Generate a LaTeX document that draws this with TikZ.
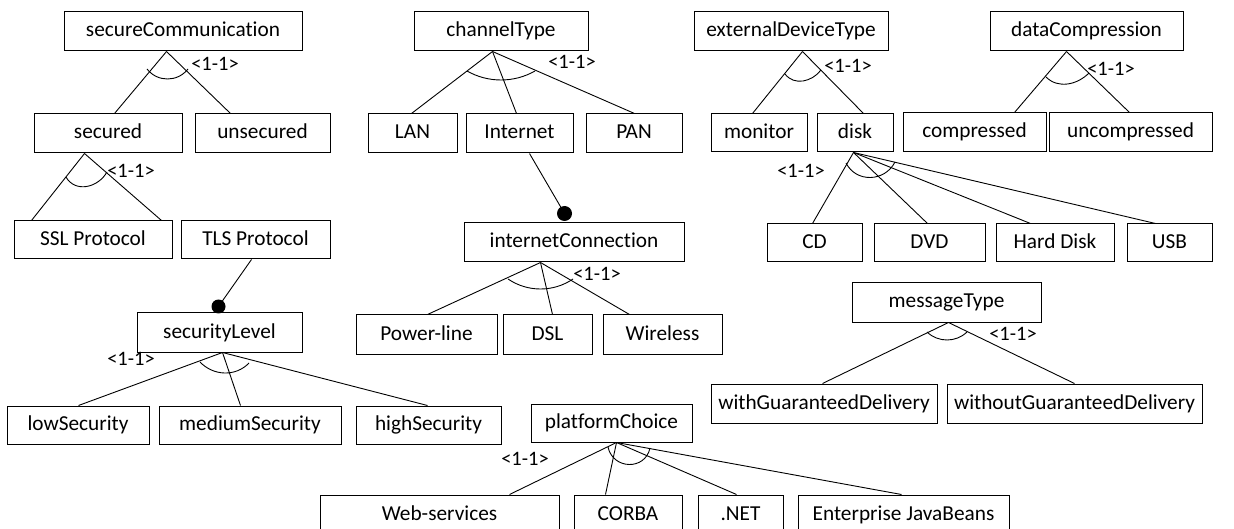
\documentclass[tikz,border=0pt]{standalone}
\usepackage{fontspec}
\setmainfont{Carlito}[Ligatures=NoCommon]
\usetikzlibrary{calc}
\tikzset{
  box/.style={draw, line width=1pt, inner sep=0pt, text height=15.5pt, text depth=4.5pt, font=\fontsize{21.3}{25}\selectfont},
  conn/.style={line width=0.9pt},
  card/.style={inner sep=0pt, text height=14pt, text depth=3pt, font=\fontsize{20.5}{24}\selectfont},
  featarc/.style={line width=0.9pt}
}
\newcommand\bx[6]{\node[box,minimum width={#4-#2},minimum height={#5-#3}] (#1) at ({(#2+#4)/2},{(#3+#5)/2}) {#6};}
\newcommand\farc[5]{%
 \pgfmathsetmacro\FAc{sqrt((#3-#1)^2+(#4-#2)^2)}%
 \pgfmathsetmacro\FAphi{2*atan(2*#5/\FAc)}%
 \pgfmathsetmacro\FAk{4/3*tan(\FAphi/2)*\FAc/(2*sin(\FAphi))}%
 \pgfmathsetmacro\FAh{\FAk*cos(\FAphi)}%
 \pgfmathsetmacro\FAv{\FAk*sin(\FAphi)}%
 \draw[featarc] (#1,#2) .. controls +(\FAh,\FAv) and +(-\FAh,\FAv) .. (#3,#4);}
\begin{document}
\begin{tikzpicture}[x=1pt,y=-1pt]
\useasboundingbox (0,0) rectangle (1234,529);
\fill[white] (0,0) rectangle (1234,529);
% boxes
\bx{sc}{64}{12}{302}{51}{secureCommunication}
\bx{sec}{34}{114}{182}{153}{secured}
\bx{unsec}{195}{114}{330}{153}{unsecured}
\bx{ssl}{14}{221}{172}{259}{SSL Protocol}
\bx{tls}{181}{221}{330}{259}{TLS Protocol}
\bx{sl}{137}{313}{302}{352}{securityLevel}
\bx{low}{7}{406}{149}{444}{lowSecurity}
\bx{med}{159}{406}{341}{444}{mediumSecurity}
\bx{high}{356}{406}{501}{444}{highSecurity}
\bx{ct}{414}{12}{588}{51}{channelType}
\bx{lan}{368}{114}{457}{153}{LAN}
\bx{inet}{466}{114}{573}{153}{Internet}
\bx{pan}{586}{114}{682}{153}{PAN}
\bx{ic}{464}{223}{684}{262}{internetConnection}
\bx{pl}{356}{315}{497}{354}{Power-line}
\bx{dsl}{503}{315}{592}{354}{DSL}
\bx{wl}{603}{315}{722}{354}{Wireless}
\bx{edt}{694}{12}{888}{51}{externalDeviceType}
\bx{mon}{711}{114}{807}{152}{monitor}
\bx{disk}{817}{114}{893}{152}{disk}
\bx{cd}{767}{224}{862}{262}{CD}
\bx{dvd}{874}{224}{985}{262}{DVD}
\bx{hd}{996}{224}{1114}{262}{Hard Disk}
\bx{usb}{1127}{224}{1212}{262}{USB}
\bx{dc}{990}{12}{1183}{51}{dataCompression}
\bx{comp}{903}{113}{1046}{152}{compressed}
\bx{uncomp}{1049}{113}{1212}{152}{uncompressed}
\bx{mt}{852}{283}{1041}{322}{messageType}
\bx{wg}{711}{384}{937}{423}{withGuaranteedDelivery}
\bx{wog}{947}{384}{1202}{423}{withoutGuaranteedDelivery}
\bx{pc}{531}{404}{692}{442}{platformChoice}
\bx{ws}{320}{495}{559}{534}{Web-services}
\bx{corba}{574}{495}{682}{534}{CORBA}
\bx{net}{698}{495}{783}{534}{.NET}
\bx{ejb}{798}{495}{1009}{534}{Enterprise JavaBeans}
% connectors
\draw[conn] ([xshift=103pt]sc.south west) -- ([xshift=81pt]sec.north west);
\draw[conn] ([xshift=103pt]sc.south west) -- ([xshift=36pt]unsec.north west);
\draw[conn] ([xshift=51pt]sec.south west) -- ([xshift=18pt]ssl.north west);
\draw[conn] ([xshift=51pt]sec.south west) -- ([xshift=148pt]ssl.north west);
\coordinate (d1) at ([xshift=82pt,yshift=6pt]sl.north west);
\draw[conn] ([xshift=71pt]tls.south west) -- (d1);
\fill (d1) circle (7);
\draw[conn] ([xshift=86pt]sl.south west) -- ([xshift=72pt]low.north west);
\draw[conn] ([xshift=86pt]sl.south west) -- ([xshift=82pt]med.north west);
\draw[conn] ([xshift=86pt]sl.south west) -- ([xshift=72pt]high.north west);
\draw[conn] ([xshift=79pt]ct.south west) -- ([xshift=44pt]lan.north west);
\draw[conn] ([xshift=79pt]ct.south west) -- ([xshift=51pt]inet.north west);
\draw[conn] ([xshift=79pt]ct.south west) -- ([xshift=49pt]pan.north west);
\coordinate (d2) at ([xshift=101pt,yshift=9pt]ic.north west);
\draw[conn] ([xshift=64pt]inet.south west) -- (d2);
\fill (d2) circle (7.5);
\draw[conn] ([xshift=77pt]ic.south west) -- ([xshift=72pt]pl.north west);
\draw[conn] ([xshift=77pt]ic.south west) -- ([xshift=50pt]dsl.north west);
\draw[conn] ([xshift=77pt]ic.south west) -- ([xshift=27pt]wl.north west);
\draw[conn] ([xshift=109pt]edt.south west) -- ([xshift=42pt]mon.north west);
\draw[conn] ([xshift=109pt]edt.south west) -- ([xshift=47pt]disk.north west);
\draw[conn] ([xshift=37pt]disk.south west) -- ([xshift=46pt]cd.north west);
\draw[conn] ([xshift=37pt]disk.south west) -- ([xshift=54pt]dvd.north west);
\draw[conn] ([xshift=37pt]disk.south west) -- ([xshift=35pt]hd.north west);
\draw[conn] ([xshift=37pt]disk.south west) -- ([xshift=29pt]usb.north west);
\draw[conn] ([xshift=77pt]dc.south west) -- ([xshift=112pt]comp.north west);
\draw[conn] ([xshift=77pt]dc.south west) -- ([xshift=81pt]uncomp.north west);
\draw[conn] ([xshift=97pt]mt.south west) -- ([xshift=112pt]wg.north west);
\draw[conn] ([xshift=97pt]mt.south west) -- ([xshift=128pt]wog.north west);
\draw[conn] ([xshift=86pt]pc.south west) -- ([xshift=190pt]ws.north west);
\draw[conn] ([xshift=86pt]pc.south west) -- ([xshift=32pt]corba.north west);
\draw[conn] ([xshift=86pt]pc.south west) -- ([xshift=39pt]net.north west);
\draw[conn] ([xshift=86pt]pc.south west) -- ([xshift=104pt]ejb.north west);
% group arcs
\farc{147}{69}{188}{69}{10}
\farc{66}{177}{107}{172}{12}
\farc{467}{71}{535}{71}{9}
\farc{508}{279}{573}{279}{10}
\farc{785}{74}{821}{70}{9}
\farc{1046}{77}{1089}{73}{9}
\farc{846}{163}{895}{162}{15}
\farc{200}{362}{249}{363}{10.5}
\farc{608}{447}{650}{448}{17}
\farc{927}{332}{967}{332}{8}
% cardinalities
\node[card] (k1) at (215,65) {<1-1>};
\node[card] (k2) at (131,172) {<1-1>};
\node[card] (k3) at (572,63) {<1-1>};
\node[card] (k4) at (597,275) {<1-1>};
\node[card] (k5) at (848,67) {<1-1>};
\node[card] (k6) at (1111,70) {<1-1>};
\node[card] (k7) at (801,172) {<1-1>};
\node[card] (k8) at (131,360) {<1-1>};
\node[card] (k9) at (525,460) {<1-1>};
\node[card] (k10) at (1013,335) {<1-1>};
\end{tikzpicture}
\end{document}
